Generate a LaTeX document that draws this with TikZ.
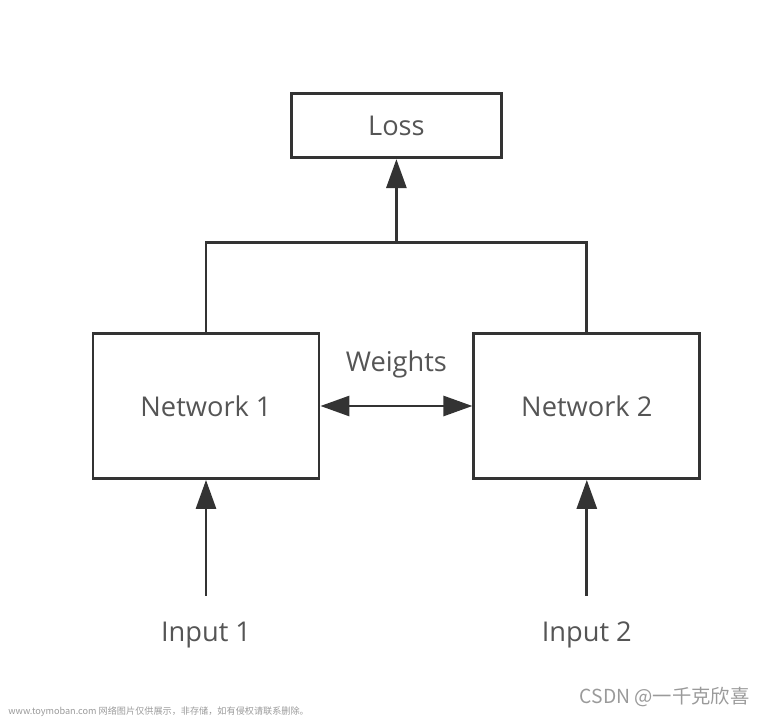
\documentclass[tikz,border=0pt]{standalone}
\usepackage{fontspec}
\setmainfont{Open Sans}
\newfontfamily\cjkfont{Noto Sans CJK SC}
\usetikzlibrary{positioning,arrows.meta,calc}
\definecolor{linegray}{HTML}{333333}
\definecolor{textgray}{HTML}{555555}
\definecolor{markgray}{HTML}{9A9A9A}
\tikzset{
	>={Triangle[length=0.58cm,width=0.4cm]},
	block/.style={
		rectangle,
		draw=linegray,
		line width=1.6pt,
		text=textgray,
		font=\fontsize{15.5}{18}\selectfont,
		minimum width=4.52cm,
		minimum height=2.9cm,
		text centered},
	lossblock/.style={block, minimum width=4.2cm, minimum height=1.28cm},
	label/.style={text=textgray, font=\fontsize{15.5}{18}\selectfont},
	line/.style={draw=linegray, line width=1.6pt},
	watermark/.style={text=markgray, inner sep=0pt},
}

\begin{document}
\begin{tikzpicture}
	[node distance=3.04cm]

\useasboundingbox (0,0) rectangle (15.2,-14.4);

% the two networks
\node[block] (net1) at (4.12,-8.12) {Network 1};
\node[block, right=of net1] (net2) {Network 2};

% loss on top
\coordinate (mid) at ($(net1.north)!0.5!(net2.north)$);
\node[lossblock, above=3.46cm of mid] (loss) {Loss};
\coordinate (top) at ($(mid)+(0,1.8)$);

% inputs
\node[label, below=2.72cm of net1] (in1) {Input 1};
\node[label, below=2.72cm of net2] (in2) {Input 2};

\draw[line] (net1.north) |- (top) -| (net2.north);
\draw[line, ->] (top) -- (loss.south);
\draw[line, <->] (net1.east) -- node[label, above=0.42cm] (weights) {Weights} (net2.west);
\draw[line, ->, shorten <=0.4cm] (in1.north) -- (net1.south);
\draw[line, ->, shorten <=0.4cm] (in2.north) -- (net2.south);

% watermark
\node[watermark, anchor=west, font=\fontsize{5.2}{6}\selectfont\cjkfont] (site) at (0.16,-14.24)
	{www.toymoban.com 网络图片仅供展示，非存储，如有侵权请联系删除。};
\node[watermark, anchor=east, font=\fontsize{11}{13}\selectfont\cjkfont] (csdn) at (15.0,-13.94)
	{CSDN @一千克欣喜};
\end{tikzpicture}
\end{document}
